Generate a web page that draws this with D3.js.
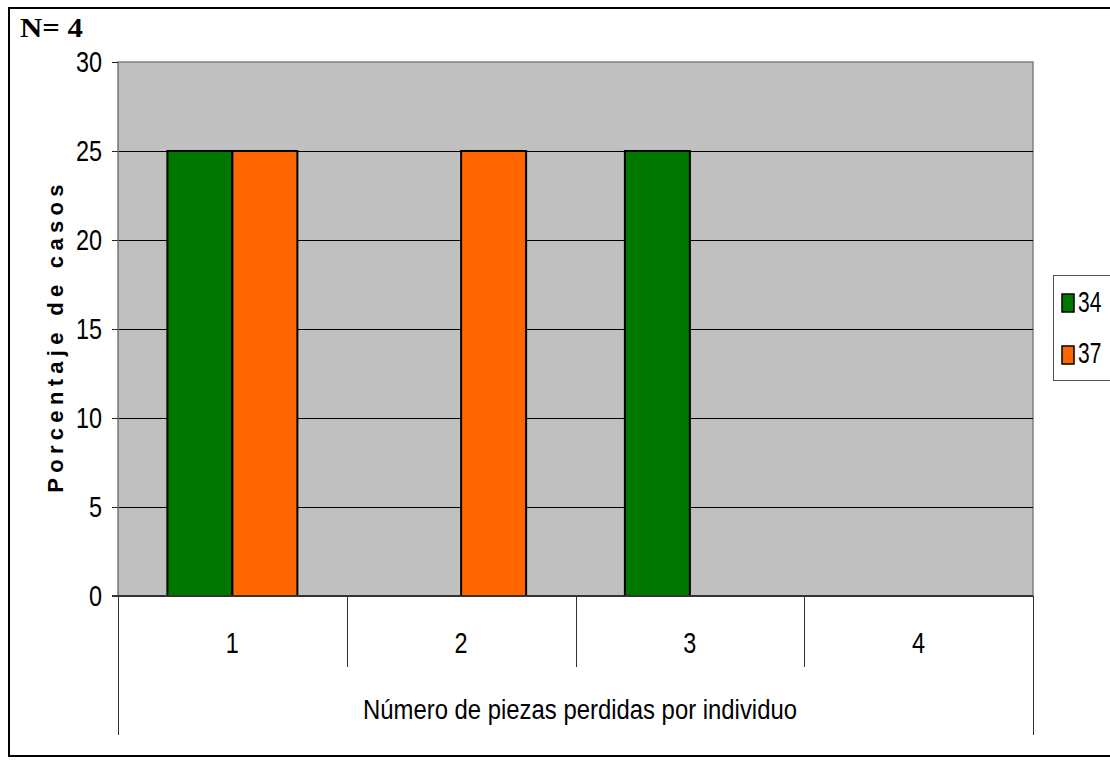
<!DOCTYPE html>
<html>
<head>
<meta charset="utf-8">
<script src="https://cdn.jsdelivr.net/npm/d3@7"></script>
<style>
  body { margin: 0; background: #fff; }
  text { font-family: "Liberation Sans", Arial, sans-serif; }
</style>
</head>
<body>
<div id="chart"></div>
<script>
// Data
var categories = ["1", "2", "3", "4"];
var seriesNames = ["34", "37"];
var values34 = [25, 0, 25, 0];
var values37 = [25, 25, 0, 0];
var yTicks = [0, 5, 10, 15, 20, 25, 30];
var colors = ["#007800", "#ff6600"];

var svg = d3.select("#chart").append("svg")
    .attr("width", 1110)
    .attr("height", 760);

// the reference uses a narrow sans, so squeeze the glyphs sideways
function squeeze(sel, k) {
    sel.each(function() {
        var w = this.getComputedTextLength();
        this.setAttribute("textLength", w * k);
        this.setAttribute("lengthAdjust", "spacingAndGlyphs");
    });
}

// outer frame
svg.append("rect")
    .attr("x", 9).attr("y", 8)
    .attr("width", 1120).attr("height", 748)
    .attr("fill", "none").attr("stroke", "#000").attr("stroke-width", 2);

var plot = {left: 118, right: 1033, top: 62, bottom: 596};

var x0 = d3.scaleBand()
    .domain(categories)
    .range([plot.left, plot.right]);
var x1 = d3.scaleBand()
    .domain(seriesNames)
    .range([0, 130]);
var y = d3.scaleLinear()
    .domain([0, 30])
    .range([plot.bottom, plot.top]);

// plot background
svg.append("rect")
    .attr("x", plot.left).attr("y", plot.top)
    .attr("width", plot.right - plot.left).attr("height", plot.bottom - plot.top)
    .attr("fill", "#c0c0c0").attr("stroke", "#808080").attr("stroke-width", 1.5);

// gridlines (half pixel offset keeps them crisp black)
svg.selectAll(".grid")
    .data(yTicks.filter(d => d > 0 && d < 30))
    .enter().append("line")
    .attr("x1", plot.left).attr("x2", plot.right)
    .attr("y1", d => Math.round(y(d)) + 0.5).attr("y2", d => Math.round(y(d)) + 0.5)
    .attr("stroke", "#000").attr("stroke-width", 1);

// y axis
var yAxis = d3.axisLeft(y).tickValues(yTicks).tickSize(6).tickPadding(10);
var yAxisG = svg.append("g")
    .attr("transform", "translate(" + plot.left + ",0)")
    .call(yAxis);
yAxisG.select(".domain").attr("stroke", "#808080");
yAxisG.selectAll("line").attr("stroke", "#222");
yAxisG.selectAll("text")
    .style("font-size", "30px")
    .attr("fill", "#000")
    .attr("dy", "0.3em")
    .call(squeeze, 0.78);

// bars
var series = [values34, values37];
var barData = [];
categories.forEach(function(c, i) {
    seriesNames.forEach(function(s, j) {
        if (series[j][i] > 0) barData.push({cat: c, ser: s, val: series[j][i], col: colors[j]});
    });
});
var offset = (x0.bandwidth() - 130) / 2;
svg.selectAll(".bar")
    .data(barData)
    .enter().append("rect")
    .attr("class", "bar")
    .attr("x", d => x0(d.cat) + offset + x1(d.ser))
    .attr("width", x1.bandwidth())
    .attr("y", d => y(d.val))
    .attr("height", d => y(0) - y(d.val))
    .attr("fill", d => d.col)
    .attr("stroke", "#000").attr("stroke-width", 2);

// x axis line
svg.append("line")
    .attr("x1", plot.left - 6).attr("x2", plot.right)
    .attr("y1", plot.bottom).attr("y2", plot.bottom)
    .attr("stroke", "#333").attr("stroke-width", 2);

// category separators
var seps = categories.map(c => x0(c)).concat([plot.right]);
svg.selectAll(".sep")
    .data(seps)
    .enter().append("line")
    .attr("x1", d => Math.round(d) + 0.5).attr("x2", d => Math.round(d) + 0.5)
    .attr("y1", plot.bottom)
    .attr("y2", (d, i) => (i == 0 || i == seps.length - 1) ? 735 : 667)
    .attr("stroke", "#333").attr("stroke-width", 1);

svg.selectAll(".catLabel")
    .data(categories)
    .enter().append("text")
    .attr("x", d => x0(d) + x0.bandwidth() / 2)
    .attr("y", 653)
    .attr("text-anchor", "middle")
    .style("font-size", "30px")
    .text(d => d)
    .call(squeeze, 0.78);

svg.append("text")
    .attr("x", 363)
    .attr("y", 719)
    .style("font-size", "27px")
    .attr("textLength", 434)
    .attr("lengthAdjust", "spacingAndGlyphs")
    .text("Número de piezas perdidas por individuo");

svg.append("text")
    .attr("transform", "translate(63,336) rotate(-90)")
    .attr("text-anchor", "middle")
    .style("font-size", "22px")
    .style("font-weight", "bold")
    .style("letter-spacing", "5.3px")
    .text("Porcentaje de casos");

svg.append("text")
    .attr("x", 20).attr("y", 37)
    .style("font-family", "'Liberation Serif', 'Times New Roman', serif")
    .style("font-size", "28px")
    .style("font-weight", "bold")
    .attr("textLength", 63)
    .attr("lengthAdjust", "spacingAndGlyphs")
    .text("N= 4");

// legend
var legend = svg.append("g");
legend.append("rect")
    .attr("x", 1053.5).attr("y", 275.5)
    .attr("width", 70).attr("height", 105)
    .attr("fill", "#fff").attr("stroke", "#555").attr("stroke-width", 1);
seriesNames.forEach(function(s, j) {
    legend.append("rect")
        .attr("x", 1062).attr("y", 294 + j * 52)
        .attr("width", 12).attr("height", 18)
        .attr("fill", colors[j]).attr("stroke", "#000").attr("stroke-width", 1.5);
    legend.append("text")
        .attr("x", 1078).attr("y", 312 + j * 51)
        .style("font-size", "30px")
        .text(s)
        .call(squeeze, 0.7);
});
</script>
</body>
</html>
